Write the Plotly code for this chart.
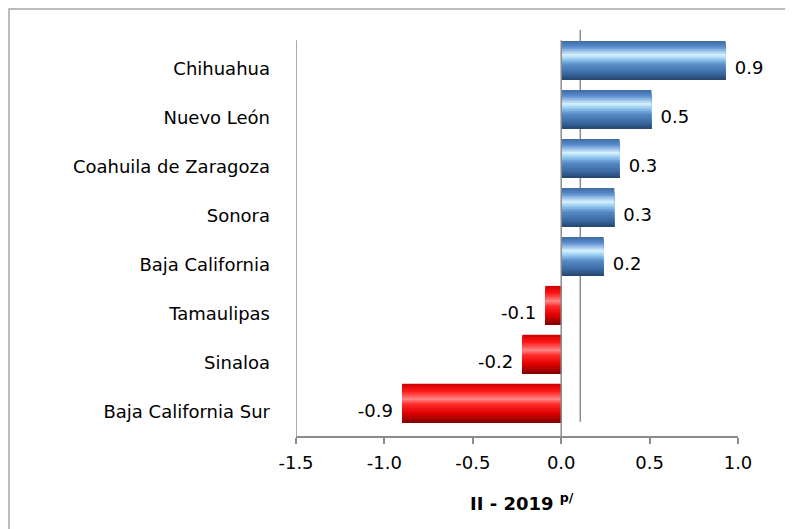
import plotly.graph_objects as go

# Datos (de abajo hacia arriba)
estados = [
    "Baja California Sur",
    "Sinaloa",
    "Tamaulipas",
    "Baja California",
    "Sonora",
    "Coahuila de Zaragoza",
    "Nuevo León",
    "Chihuahua",
]
variacion = [-0.90, -0.22, -0.09, 0.24, 0.30, 0.33, 0.51, 0.93]
etiquetas = [f"{v:.1f}" for v in variacion]
ticks_x = [-1.5, -1.0, -0.5, 0.0, 0.5, 1.0]

FONT = "DejaVu Sans"
GRIS = "#8c8c8c"

# degradado tipo cilindro (de arriba hacia abajo)
azul = [(0.0, (61, 106, 164)), (0.15, (90, 140, 205)), (0.36, (215, 242, 255)),
        (0.48, (145, 198, 238)), (0.62, (88, 138, 198)), (0.85, (58, 104, 160)),
        (1.0, (36, 68, 108))]
rojo = [(0.0, (205, 0, 0)), (0.18, (255, 20, 20)), (0.40, (255, 135, 135)),
        (0.52, (255, 45, 45)), (0.75, (225, 0, 0)), (1.0, (130, 0, 0))]


def color_en(stops, t):
    for (t0, c0), (t1, c1) in zip(stops[:-1], stops[1:]):
        if t0 <= t <= t1:
            f = (t - t0) / (t1 - t0)
            c = [round(a + (b - a) * f) for a, b in zip(c0, c1)]
            return f"rgb({c[0]},{c[1]},{c[2]})"
    c = stops[-1][1]
    return f"rgb({c[0]},{c[1]},{c[2]})"


N = 24
ANCHO = 0.79
OFF = -0.215

fig = go.Figure()
for k in range(N):
    t = (k + 0.5) / N
    colores = [color_en(azul, t) if v >= 0 else color_en(rojo, t) for v in variacion]
    fig.add_trace(
        go.Bar(
            x=variacion,
            y=estados,
            orientation="h",
            width=ANCHO * (1 - k / N),
            offset=OFF,
            marker=dict(color=colores, line=dict(width=0)),
            hoverinfo="skip" if k else None,
            showlegend=False,
        )
    )

# etiquetas de valor
fig.add_trace(
    go.Scatter(
        x=variacion,
        y=estados,
        mode="markers+text",
        text=etiquetas,
        textposition=["middle right" if v >= 0 else "middle left" for v in variacion],
        textfont=dict(family=FONT, size=18, color="black"),
        marker=dict(size=13, opacity=0),
        cliponaxis=False,
        hoverinfo="skip",
        showlegend=False,
    )
)

# lineas de la "pared" 3D
fig.add_shape(type="line", xref="x", yref="y", x0=-1.5, x1=-1.5, y0=-0.49, y1=7.59,
              line=dict(color=GRIS, width=1.5), layer="below")
fig.add_shape(type="line", xref="x", yref="y", x0=0.108, x1=0.108, y0=-0.2, y1=7.8,
              line=dict(color=GRIS, width=1.5), layer="below")
fig.add_shape(type="line", xref="x", yref="y", x0=0, x1=0, y0=-0.49, y1=7.59,
              line=dict(color=GRIS, width=1.5), layer="above")

# marco exterior
fig.add_shape(type="rect", xref="paper", yref="paper",
              x0=(1 - 288) / 442, x1=1.2, y0=-0.4, y1=(428 - 1) / 406,
              line=dict(color="#a6a6a6", width=1.5))

fig.add_annotation(
    text="<b>II - 2019 <sup>p/</sup></b>",
    xref="paper", yref="paper", x=0.511, y=-0.163, yanchor="middle",
    showarrow=False, font=dict(family=FONT, size=18, color="black"),
)

fig.update_layout(
    width=785,
    height=521,
    margin=dict(l=288, r=55, t=22, b=93),
    barmode="overlay",
    plot_bgcolor="white",
    paper_bgcolor="white",
    font=dict(family=FONT, size=18, color="black"),
    xaxis=dict(
        range=[-1.5, 1.0],
        tickvals=ticks_x,
        ticktext=[f"{v:.1f}" for v in ticks_x],
        showline=True, linecolor=GRIS, linewidth=1.5,
        ticks="outside", ticklen=6, tickcolor=GRIS, tickwidth=1.5,
        showgrid=False, zeroline=False, ticklabelstandoff=4,
        tickfont=dict(family=FONT, size=18),
    ),
    yaxis=dict(
        range=[-0.49, 7.8],
        showline=False, showgrid=False, zeroline=False,
        ticks="", ticklabelstandoff=25,
        tickfont=dict(family=FONT, size=18),
    ),
)

fig.write_html("out.html")
